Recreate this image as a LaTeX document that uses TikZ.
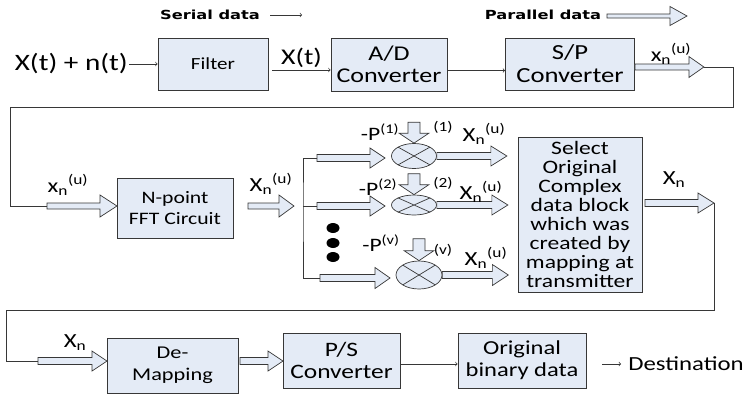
\documentclass[tikz,border=0pt]{standalone}
\usepackage{fontspec}
\setmainfont{Carlito}[FakeStretch=1.24]
\newfontfamily\legendfont{DejaVu Sans}[FakeStretch=1.3]
\usetikzlibrary{shapes.geometric}
\definecolor{boxfill}{RGB}{228,235,246}
\definecolor{linec}{RGB}{55,55,55}
\newcommand{\fsz}[2]{\fontsize{#1}{#2}\selectfont}
\tikzset{
  block/.style={draw=linec, fill=boxfill, line width=0.8pt, align=center, inner sep=2pt},
  pics/hollow/.style n args={4}{code={
    \draw[draw=linec, fill=boxfill, line width=0.7pt]
      (0,-#2) -- (#1-#4,-#2) -- (#1-#4,-#3) -- (#1,0) -- (#1-#4,#3) -- (#1-#4,#2) -- (0,#2) -- cycle;
    \coordinate (-tail) at (0,0);
    \coordinate (-tip) at (#1,0);
  }},
  mixer/.style={ellipse, draw=linec, fill=boxfill, line width=0.7pt, inner sep=0pt,
    path picture={\draw[linec, line width=0.7pt] (path picture bounding box.north west) -- (path picture bounding box.south east)
      (path picture bounding box.north east) -- (path picture bounding box.south west);}},
  lbl/.style={inner sep=1pt, font=\fsz{20}{22}},
  legend/.style={inner sep=1pt, font=\legendfont\bfseries\fsz{12.5}{15}},
  dot/.style={ellipse, fill=black, minimum width=13pt, minimum height=10pt, inner sep=0pt},
  wire/.style={draw=linec, line width=0.7pt},
  >=to
}
\begin{document}
\begin{tikzpicture}[x=1pt,y=-1pt]
  \useasboundingbox (0,0) rectangle (749,394);

  \node[legend] (serial) at (210,15) {Serial data};
  \draw[wire,->] ([xshift=9pt]serial.east) -- ++(32,0);
  \node[legend] (parallel) at (543,15) {Parallel data};
  \pic (pararr) at (607,16) {hollow={80}{2}{9.5}{17}};

  \node[block, minimum width=110pt, minimum height=52pt, font=\fsz{17}{20}] (filter) at (213,64) {Filter};
  \node[lbl, font=\fsz{23.5}{26}, anchor=east] (input) at (129,64) {X(t) + n(t)};
  \draw[wire,->] (input) -- (filter);
  \node[block, minimum width=116pt, minimum height=53pt, font=\fsz{21}{22}] (adc) at (389,64.5) {A/D\\Converter};
  \draw[wire,->] ([shift={(4,6)}]filter.east) -- ([shift={(0,5.5)}]adc.west)
    node[lbl, midway, above=1pt, font=\fsz{22.5}{24}] (xt) {X(t)};
  \node[block, minimum width=129pt, minimum height=52pt, font=\fsz{21.5}{23}] (sp) at (570,64) {S/P\\Converter};
  \draw[wire,->] ([shift={(0,6)}]adc.east) -- ([shift={(0,6.5)}]sp.west);
  \pic (spout) at ([shift={(0,3)}]sp.east) {hollow={69}{3}{10.5}{15}};
  \node[lbl] (spx) at (671,54) {x\textsubscript{n}\textsuperscript{(u)}};

  \node[block, minimum width=116pt, minimum height=60pt, font=\fsz{17.5}{21}] (fft) at (175,208) {N-point\\FFT Circuit};
  \pic (fftin) at (47,206) {hollow={70}{3}{11}{17}};
  \node[lbl] (fftx) at (68,185) {x\textsubscript{n}\textsuperscript{(u)}};
  \coordinate (r1) at (733,107);
  \coordinate (l1) at (10,107);
  \draw[wire] (spout-tip) -| (r1) -- (l1) |- (fftin-tail);
  \pic (fftout) at (248,206) {hollow={46}{3}{11}{15}};
  \node[lbl] (fftX) at (271,184) {X\textsubscript{n}\textsuperscript{(u)}};

  \pic (br1) at (317,158) {hollow={68}{3.5}{10}{15}};
  \pic (br2) at (317,206) {hollow={68}{3.5}{10}{15}};
  \pic (br3) at (320,278) {hollow={70}{3.5}{10.5}{15}};
  \coordinate (bus) at (303,206);
  \draw[wire] (br1-tail) -| (bus) |- (br3-tail);
  \draw[wire] (bus) -- (br2-tail);
  \foreach \y [count=\i] in {228,243,257}
    \node[dot] (dot\i) at (333,\y) {};

  \node[mixer, minimum width=45pt, minimum height=25pt] (m1) at (414,156) {};
  \node[mixer, minimum width=45pt, minimum height=20pt] (m2) at (414,205) {};
  \node[mixer, minimum width=46pt, minimum height=28pt] (m3) at (419,275) {};
  \pic[rotate=-90] (d1) at ([yshift=21pt]m1.north) {hollow={21}{6}{15}{10}};
  \pic[rotate=-90] (d2) at ([yshift=21pt]m2.north) {hollow={21}{6}{15}{10}};
  \pic[rotate=-90] (d3) at ([yshift=22pt]m3.north) {hollow={22}{6}{15}{10}};
  \pic (o1) at (m1.east) {hollow={70}{3.5}{10}{16}};
  \pic (o2) at (m2.east) {hollow={71}{3.5}{10}{16}};
  \pic (o3) at (m3.east) {hollow={66}{3.5}{10.5}{16}};

  \node[lbl, font=\fsz{19}{20}] (p1) at (380,132) {-P\textsuperscript{(1)}};
  \node[lbl, font=\fsz{14}{15}] (s1) at (443,127) {(1)};
  \node[lbl] (x1) at (484,134) {X\textsubscript{n}\textsuperscript{(u)}};
  \node[lbl, font=\fsz{19}{20}] (p2) at (378,187) {-P\textsuperscript{(2)}};
  \node[lbl, font=\fsz{14}{15}] (s2) at (443,183) {(2)};
  \node[lbl] (x2) at (481,192) {X\textsubscript{n}\textsuperscript{(u)}};
  \node[lbl, font=\fsz{19}{20}] (p3) at (381,243) {-P\textsuperscript{(v)}};
  \node[lbl, font=\fsz{14}{15}] (s3) at (443,250) {(v)};
  \node[lbl] (x3) at (486,258) {X\textsubscript{n}\textsuperscript{(u)}};

  \node[block, minimum width=124pt, minimum height=155pt, font=\fsz{19}{19.1}] (sel) at (580,214.5)
    {Select\\Original\\Complex\\data block\\which was\\created by\\mapping at\\transmitter};
  \pic (selout) at (645,203) {hollow={69}{3.5}{10}{16}};
  \node[lbl] (selx) at (674,180) {X\textsubscript{n}};

  \node[block, minimum width=131pt, minimum height=55pt, font=\fsz{18}{22}] (demap) at (172.5,365.5) {De-\\Mapping};
  \pic (dmin) at (38,361) {hollow={69}{3.5}{10}{15}};
  \node[lbl] (dmx) at (75,343) {X\textsubscript{n}};
  \coordinate (l2) at (6,310);
  \draw[wire] (selout-tip) |- (l2) |- (dmin-tail);
  \pic (dmout) at (240,361) {hollow={43}{3.5}{10}{15}};
  \node[block, minimum width=117pt, minimum height=55pt, font=\fsz{20.5}{22}] (ps) at (341.5,360.5) {P/S\\Converter};
  \node[block, minimum width=128pt, minimum height=55pt, font=\fsz{19.8}{22}] (orig) at (522,360.5) {Original\\binary data};
  \draw[wire,->] ([shift={(0,3.5)}]ps.east) -- ([shift={(0,3.5)}]orig.west);
  \node[lbl] (dest) at (686,364) {Destination};
  \draw[wire,->] ([shift={(16,3.5)}]orig.east) -- ([xshift=-6pt]dest.west);

\end{tikzpicture}
\end{document}
